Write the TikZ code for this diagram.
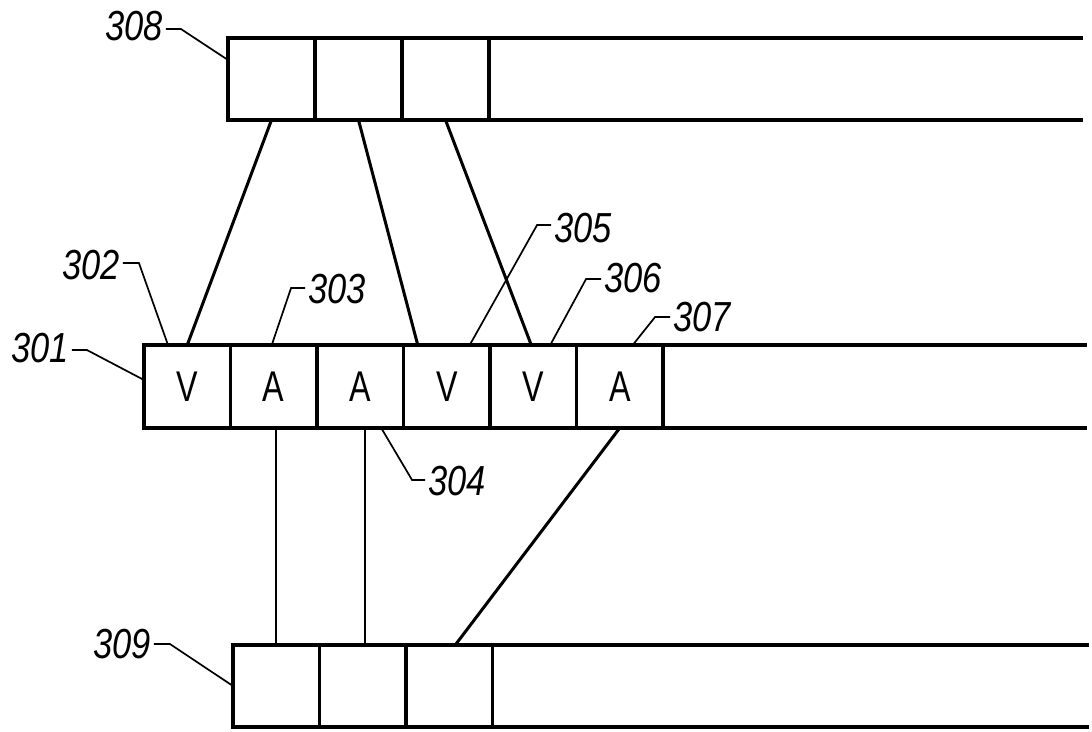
\documentclass[tikz,border=0pt]{standalone}
\usepackage{graphicx}
\usepackage{fontspec}
\setmainfont{Liberation Sans}
\newcommand\celltxt[1]{\scalebox{0.75}[1]{#1}}
\newcommand\labtxt[1]{\scalebox{0.82}[1]{\itshape #1}}
\begin{document}
\begin{tikzpicture}[x=1pt,y=-1pt,
  cell/.style={draw,line width=3.5pt,minimum width=86.5pt,minimum height=82pt,inner sep=0pt,outer sep=0pt,font=\fontsize{43}{43}\selectfont},
  lab/.style={font=\fontsize{42}{42}\selectfont,inner sep=3pt},
  lead/.style={line width=1.7pt},
  conn/.style={line width=3pt},
  rail/.style={line width=3.5pt}]
\useasboundingbox (0,0) rectangle (1092,731);

% row 308
\node[cell,minimum width=87pt] (t1) at (271.5,79) {};
\node[cell,minimum width=87pt] (t2) at (358.5,79) {};
\node[cell,minimum width=87pt] (t3) at (445.5,79) {};
\coordinate (t_end_n) at (1083,38);
\coordinate (t_end_s) at (1083,120);
\draw[rail] (t3.north east) -- (t_end_n);
\draw[rail] (t3.south east) -- (t_end_s);

% row 301
\node[cell,minimum height=83pt] (m1) at (187.25,386.5) {\celltxt{V}};
\node[cell,minimum height=83pt] (m2) at (273.75,386.5) {\celltxt{A}};
\node[cell,minimum height=83pt] (m3) at (360.25,386.5) {\celltxt{A}};
\node[cell,minimum height=83pt] (m4) at (446.75,386.5) {\celltxt{V}};
\node[cell,minimum height=83pt] (m5) at (533.25,386.5) {\celltxt{V}};
\node[cell,minimum height=83pt] (m6) at (619.75,386.5) {\celltxt{A}};
\coordinate (m_end_n) at (1087,345);
\coordinate (m_end_s) at (1087,428);
\draw[rail] (m6.north east) -- (m_end_n);
\draw[rail] (m6.south east) -- (m_end_s);

% row 309
\node[cell] (b1) at (276.25,686) {};
\node[cell] (b2) at (362.75,686) {};
\node[cell] (b3) at (449.25,686) {};
\coordinate (b_end_n) at (1089,645);
\coordinate (b_end_s) at (1089,727);
\draw[rail] (b3.north east) -- (b_end_n);
\draw[rail] (b3.south east) -- (b_end_s);

% connectors
\draw[conn] (t1.south) -- (m1.north);
\draw[conn] (t2.south) -- ([xshift=-29pt]m4.north);
\draw[conn] (t3.south) -- ([xshift=-2pt]m5.north);
\draw[line width=2.2pt] ([xshift=2pt]m2.south) -- ([xshift=2pt]m2.south |- b1.north);
\draw[line width=2.4pt] ([xshift=5pt]m3.south) -- ([xshift=5pt]m3.south |- b2.north);
\draw[conn] (m6.south) -- ([xshift=6pt]b3.north);

% labels
\node[lab] (L308) at (134,26) {\labtxt{308}};
\node[lab] (L302) at (91,265) {\labtxt{302}};
\node[lab] (L303) at (337,289) {\labtxt{303}};
\node[lab] (L305) at (583,228) {\labtxt{305}};
\node[lab] (L306) at (633,278) {\labtxt{306}};
\node[lab] (L307) at (702,317) {\labtxt{307}};
\node[lab] (L301) at (40,348) {\labtxt{301}};
\node[lab] (L304) at (457,481) {\labtxt{304}};
\node[lab] (L309) at (122,644) {\labtxt{309}};

% leaders
\draw[lead] ([yshift=-3pt]L308.east) -- ++(15,0) -- ([yshift=19pt]t1.west);
\draw[lead] ([yshift=2pt]L302.east) -- ++(16,0) -- ([xshift=24pt]m1.north west);
\draw[lead] ([yshift=1pt]L303.west) -- ++(-14,0) -- ([xshift=-2pt]m2.north);
\draw[lead] ([yshift=3pt]L305.west) -- ++(-14,0) -- ([xshift=23pt]m4.north);
\draw[lead] ([yshift=-1pt]L306.west) -- ++(-15,0) -- ([xshift=17pt]m5.north);
\draw[lead] (L307.west) -- ++(-15,0) -- ([xshift=13pt]m6.north);
\draw[lead] ([yshift=-2pt]L301.east) -- ++(15,0) -- ([yshift=6.5pt]m1.west);
\draw[lead] ([yshift=1pt]L304.west) -- ++(-13,0) -- ([xshift=21pt]m3.south);
\draw[lead] ([yshift=0pt]L309.east) -- ++(16,0) -- (b1.west);
\end{tikzpicture}
\end{document}
